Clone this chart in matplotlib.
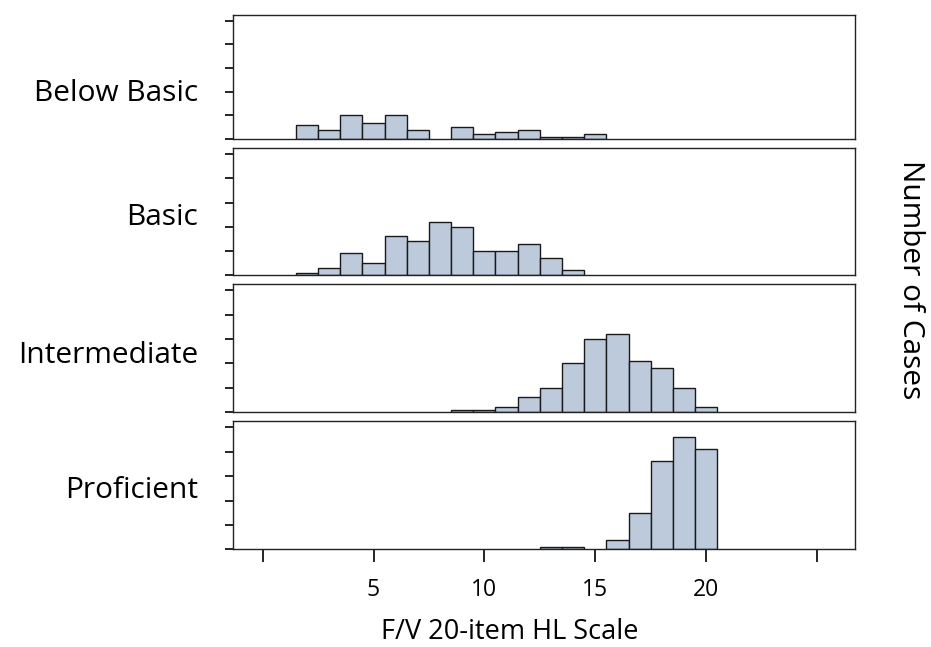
import numpy as np
import matplotlib
matplotlib.use("Agg")
import matplotlib.pyplot as plt

plt.rcParams['font.family'] = ['Open Sans', 'DejaVu Sans']

# histogram counts per score (bins of width 1, centred on integers)
groups = ['Below Basic', 'Basic', 'Intermediate', 'Proficient']

below_x = [2, 3, 4, 5, 6, 7, 9, 10, 11, 12, 13, 14, 15]
below_n = [6, 4, 10, 7, 10, 4, 5, 2, 3, 4, 1, 1, 2]

basic_x = [2, 3, 4, 5, 6, 7, 8, 9, 10, 11, 12, 13, 14]
basic_n = [1, 3, 9, 5, 16, 14, 22, 20, 10, 10, 13, 7, 2]

inter_x = [9, 10, 11, 12, 13, 14, 15, 16, 17, 18, 19, 20]
inter_n = [1, 1, 2, 6, 10, 20, 30, 32, 21, 18, 10, 2]

prof_x = [13, 14, 16, 17, 18, 19, 20]
prof_n = [1, 1, 4, 15, 36, 46, 41]

data = [(below_x, below_n), (basic_x, basic_n), (inter_x, inter_n), (prof_x, prof_n)]

xticks = [0, 5, 10, 15, 20, 25]
xticklabels = ['', '5', '10', '15', '20', '']

fig = plt.figure(figsize=(9.31, 6.47), dpi=100)

# panel bottoms/heights in figure fraction (top to bottom)
bottoms = [0.785, 0.575, 0.363, 0.151]
heights = [0.192, 0.196, 0.198, 0.198]
label_y = [0.37, 0.45, 0.44, 0.46]

for i, (name, (xs, ns)) in enumerate(zip(groups, data)):
    ax = fig.add_axes([0.250, bottoms[i], 0.668, heights[i]])
    ax.bar(xs, ns, width=1.0, color='#bccadc', edgecolor='#1a1a1a', linewidth=1.0)
    ax.set_xlim(-1.35, 26.7)
    ax.set_ylim(0, 52.5)
    ax.set_yticks([0, 10, 20, 30, 40, 50])
    ax.set_yticklabels([])
    ax.tick_params(axis='y', direction='out', length=6, width=1.2)
    for s in ax.spines.values():
        s.set_color('#222222')
        s.set_linewidth(1.0)
    ax.text(-0.056, label_y[i], name, transform=ax.transAxes, ha='right', va='center',
            fontsize=21.5)
    if i < 3:
        ax.set_xticks([])
    else:
        ax.set_xticks(xticks)
        ax.set_xticklabels(xticklabels, fontsize=16.5)
        ax.tick_params(axis='x', direction='out', length=9, width=1.2, pad=12)

fig.text(0.548, 0.012, 'F/V 20-item HL Scale', ha='center', va='baseline', fontsize=19.5)
fig.text(0.978, 0.567, 'Number of Cases', rotation=-90, ha='center', va='center', fontsize=21.5)

fig.savefig('out.png', dpi=100)
